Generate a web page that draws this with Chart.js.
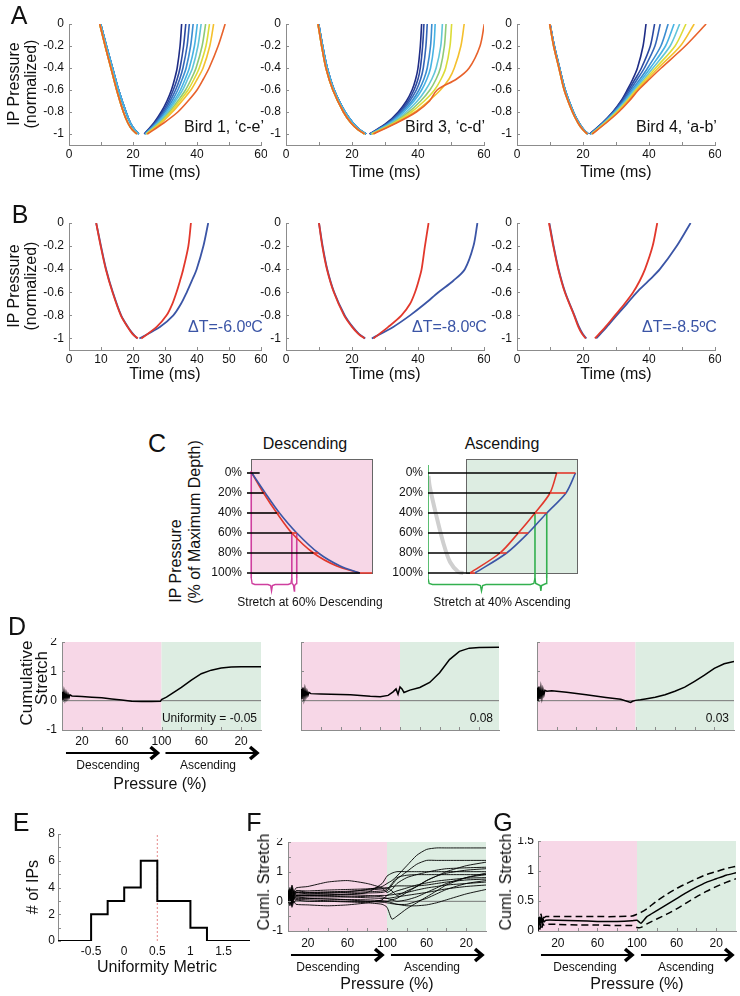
<!DOCTYPE html>
<html>
<head>
<meta charset="utf-8">
<script src="https://cdn.jsdelivr.net/npm/chart.js@4.4.1/dist/chart.umd.min.js"></script>
<style>
  body { margin: 0; width: 740px; height: 996px; position: relative; overflow: hidden; background: #fff;
         font-family: 'Liberation Sans', Arial, Helvetica, sans-serif; color: #111; }
  canvas { position: absolute; }
  .t { position: absolute; white-space: nowrap; line-height: 1; }
</style>
</head>
<body>
<script>
// ---------- data: panel A (x in ms at fixed pressure levels) ----------
const ascLevels = [-1, -0.9, -0.8, -0.7, -0.6, -0.5, -0.4, -0.2, 0];
const descLevels = [0, -0.2, -0.4, -0.6, -0.8, -0.9, -0.96, -1];

const bird1DescCool = [9.9, 11.7, 13.6, 15.5, 17.8, 19.2, 20.5, 21.8];
const bird1DescWarm = [9.6, 11.3, 13.1, 14.9, 17.0, 18.4, 19.7, 21.2];
const bird1Asc = [
  [23.5, 26.5, 28.8, 30.6, 32.0, 33.0, 33.8, 34.7, 35.2],
  [23.6, 26.8, 29.2, 31.1, 32.6, 33.8, 34.7, 35.8, 36.5],
  [23.7, 27.0, 29.6, 31.6, 33.3, 34.6, 35.6, 36.9, 37.6],
  [23.8, 27.3, 30.0, 32.2, 34.0, 35.4, 36.6, 38.0, 38.8],
  [23.9, 27.6, 30.5, 32.8, 34.8, 36.3, 37.6, 39.2, 40.1],
  [24.0, 27.9, 30.9, 33.3, 35.5, 37.1, 38.6, 40.3, 41.3],
  [24.1, 28.2, 31.4, 34.0, 36.4, 38.2, 39.7, 41.6, 42.7],
  [24.2, 28.5, 31.8, 34.6, 37.2, 39.1, 40.7, 42.8, 43.9],
  [24.3, 28.8, 32.3, 35.3, 38.1, 40.1, 41.9, 44.0, 45.2],
  [24.5, 29.6, 34.0, 37.2, 40.0, 42.0, 43.8, 46.6, 48.8],
];

const bird3DescCool = [9.9, 11.1, 12.5, 14.6, 17.9, 20.3, 22.3, 24.3];
const bird3DescWarm = [9.7, 10.8, 12.1, 14.2, 17.4, 19.7, 21.8, 23.8];
const bird3Asc = [
  [25.3, 30.5, 34.0, 36.5, 38.2, 39.3, 40.0, 40.7, 41.1],
  [25.4, 30.8, 34.4, 37.0, 38.8, 40.0, 40.7, 41.4, 41.8],
  [25.5, 31.0, 34.8, 37.5, 39.5, 40.8, 41.6, 42.4, 42.8],
  [25.6, 31.3, 35.2, 38.2, 40.3, 41.8, 42.8, 43.8, 44.2],
  [25.7, 31.6, 35.7, 38.8, 41.1, 42.7, 43.8, 44.8, 45.2],
  [25.8, 32.0, 36.4, 39.8, 42.3, 44.2, 45.5, 46.9, 47.4],
  [25.9, 32.4, 37.2, 40.8, 43.6, 45.5, 46.8, 48.0, 48.5],
  [26.0, 32.8, 38.0, 41.9, 45.0, 47.0, 48.4, 49.7, 50.2],
  [26.2, 33.2, 39.0, 43.2, 46.8, 49.4, 51.0, 53.0, 54.0],
  [26.5, 33.5, 39.5, 43.5, 45.8, 51.7, 55.5, 58.8, 60.1],
];

const bird4DescCool = [10.0, 11.3, 12.9, 14.6, 17.1, 18.8, 20.2, 21.6];
const bird4DescWarm = [9.9, 11.1, 12.7, 14.3, 16.8, 18.5, 19.9, 21.3];
const bird4Asc = [
  [22.0, 25.8, 29.0, 31.5, 33.4, 35.1, 36.5, 38.2, 39.1],
  [22.1, 25.9, 29.1, 31.7, 33.8, 35.8, 37.7, 40.4, 41.7],
  [22.2, 26.0, 29.3, 32.0, 34.3, 36.5, 38.6, 41.8, 43.4],
  [22.3, 26.1, 29.5, 32.4, 34.8, 37.3, 39.6, 43.6, 45.8],
  [22.4, 26.3, 29.7, 32.7, 35.2, 37.9, 40.4, 45.0, 47.6],
  [22.5, 26.4, 29.9, 32.9, 35.6, 38.5, 41.2, 46.4, 49.3],
  [22.6, 26.6, 30.2, 33.3, 36.0, 39.0, 42.0, 47.9, 51.2],
  [22.7, 26.8, 30.5, 33.6, 36.4, 39.6, 42.8, 49.5, 53.7],
  [22.8, 27.0, 30.8, 34.0, 36.8, 40.2, 43.7, 51.0, 57.3],
];

// ---------- data: panel B ----------
const b1RedDesc = [8.5, 9.9, 11.5, 13.6, 16.2, 18.3, 19.8, 21.5];
const b1BlueDesc = [8.5, 10.0, 11.6, 13.7, 16.3, 18.4, 20.0, 21.3];
const b1RedAsc = [22.6, 27.4, 30.5, 32.3, 33.6, 34.7, 35.7, 37.3, 38.1];
const b1BlueAsc = [22.0, 28.4, 32.6, 35.0, 36.8, 38.4, 39.9, 42.0, 43.5];
const b2RedDesc = [10.0, 11.0, 12.4, 14.5, 17.6, 20.0, 21.9, 23.8];
const b2BlueDesc = [10.0, 11.1, 12.5, 14.6, 17.8, 20.2, 22.1, 24.0];
const b2RedAsc = [26.5, 31.0, 35.0, 37.6, 39.1, 40.2, 41.1, 42.1, 43.2];
const b2BlueAsc = [26.0, 32.5, 37.6, 42.1, 46.2, 50.7, 54.2, 56.8, 58.0];
const b3RedDesc = [9.7, 11.0, 12.5, 14.5, 17.3, 18.6, 19.7, 20.8];
const b3BlueDesc = [9.8, 11.1, 12.6, 14.6, 17.4, 18.8, 19.9, 21.0];
const b3RedAsc = [23.6, 26.8, 29.7, 32.6, 35.2, 37.2, 38.8, 41.1, 42.5];
const b3BlueAsc = [24.0, 27.2, 30.2, 33.3, 36.3, 39.9, 43.3, 48.4, 52.6];

// ---------- data: panel C (schematic, % depth) ----------
const cLevels = [0, 20, 40, 60, 80, 100];
const cDescRedX = [0.5, 10.2, 21.2, 33.6, 51.5, 70.8, 90];
const cDescRedY = [0, 20, 40, 60, 80, 93, 100];
const cDescBlueX = [0.5, 11.6, 23.4, 37.7, 55.6, 73.6, 90];
const cDescBlueY = [0, 20, 40, 60, 80, 93, 100];
const cDescBlackEnd = [7, 10.2, 21.2, 33.6, 51.5, 90];
const cDescRedEnd = [7, 11.6, 23.4, 37.7, 55.6, 100];
const cDescMarks = [0, 33.6, 37.7];

const cAscGrayX = [0.3, 1.2, 5.8, 10.3, 14.8, 20.4, 23.7];
const cAscGrayY = [3, 14, 44, 70, 89, 99, 100];
const cAscRedX = [28.2, 48.3, 60.6, 71.8, 81.9, 86.4];
const cAscRedY = [100, 80, 60, 40, 20, 0];
const cAscBlueX = [31.5, 52.8, 67.3, 79.7, 92.6, 99];
const cAscBlueY = [100, 80, 60, 40, 20, 0];
const cAscBlackEnd = [86.4, 81.9, 71.8, 60.6, 48.3, 28.2];
const cAscRedEnd = [99, 92.6, 79.7, 67.3, 52.8, 31.5];
const cAscMarks = [0, 71.8, 79.7];

// ---------- data: panel D (cumulative stretch) ----------
const d1X = [0, 1, 2, 3, 4, 5, 6, 7, 8, 10, 20, 30, 40, 50, 60, 70, 80, 90, 99, 100, 105, 110, 120, 130, 140, 150, 160, 170, 180, 200];
const d1Y = [0.3, 0.02, 0.3, 0.06, 0.26, 0.08, 0.22, 0.1, 0.2, 0.16, 0.14, 0.12, 0.1, 0.06, 0.02, -0.02, -0.03, -0.03, -0.02, 0.04, 0.12, 0.23, 0.45, 0.7, 0.92, 1.04, 1.11, 1.15, 1.16, 1.16];
const d2X = [0, 1, 2, 3, 4, 5, 6, 7, 8, 10, 20, 30, 40, 50, 60, 70, 80, 88, 93, 96, 98, 100, 102, 104, 110, 120, 130, 140, 150, 160, 170, 180, 200];
const d2Y = [0.4, 0.05, 0.45, 0.1, 0.38, 0.15, 0.32, 0.18, 0.28, 0.24, 0.23, 0.22, 0.21, 0.2, 0.18, 0.15, 0.13, 0.18, 0.3, 0.4, 0.22, 0.47, 0.4, 0.28, 0.36, 0.45, 0.62, 0.95, 1.4, 1.68, 1.79, 1.81, 1.82];
const d3X = [0, 1, 2, 3, 4, 5, 6, 7, 8, 10, 15, 30, 50, 70, 85, 95, 97, 100, 105, 110, 120, 130, 140, 150, 160, 170, 180, 190, 200];
const d3Y = [0.45, -0.02, 0.48, 0.05, 0.42, 0.12, 0.38, 0.2, 0.35, 0.32, 0.34, 0.29, 0.2, 0.11, 0.05, -0.06, -0.02, 0.01, 0.03, 0.06, 0.12, 0.2, 0.32, 0.46, 0.66, 0.87, 1.1, 1.26, 1.34];
const uniformity = ['Uniformity = -0.05', '0.08', '0.03'];

// ---------- data: panel E (histogram) ----------
const binLefts = [-0.5, -0.25, 0, 0.25, 0.5, 0.75, 1];
const binCounts = [2, 3, 4, 6, 3, 3, 1];
const binWidth = 0.25;
const meanUniformity = 0.5;

// ---------- data: panel F (all IPs) ----------
const fX = [0, 2, 4, 6, 8, 20, 40, 60, 80, 95, 100, 105, 110, 120, 130, 140, 150, 160, 180, 200];
const fCurves = [
  [0.3, 0.05, 0.45, 0.1, 0.35, 0.3, 0.3, 0.32, 0.4, 0.5, 0.6, 0.7, 0.85, 1.2, 1.55, 1.75, 1.8, 1.8, 1.8, 1.8],
  [0.1, 0.4, -0.05, 0.3, 0.2, 0.2, 0.22, 0.25, 0.28, 0.3, 0.35, 0.55, 0.75, 1.0, 1.25, 1.38, 1.38, 1.38, 1.38, 1.38],
  [0.2, -0.1, 0.3, 0.05, 0.15, 0.1, 0.08, 0.06, 0.05, 0.02, 0, 0.05, 0.1, 0.3, 0.5, 0.7, 0.85, 1.0, 1.2, 1.32],
  [0.4, 0.2, 0.55, 0.3, 0.45, 0.5, 0.65, 0.7, 0.6, 0.45, 0.3, 0.4, 0.6, 0.8, 0.9, 0.98, 1.05, 1.1, 1.13, 1.15],
  [0.15, 0.35, 0.0, 0.25, 0.2, 0.2, 0.2, 0.22, 0.3, 0.6, 0.85, 0.95, 1.0, 1.0, 1.0, 1.0, 1.0, 1.0, 1.0, 1.0],
  [0.0, 0.25, -0.15, 0.1, 0.05, 0.0, 0.0, -0.02, -0.05, -0.1, -0.2, -0.6, -0.5, -0.25, -0.05, 0.15, 0.35, 0.55, 0.8, 0.95],
  [0.3, 0.1, 0.45, 0.2, 0.3, 0.25, 0.25, 0.22, 0.2, 0.15, 0.1, 0.05, 0.0, 0.05, 0.15, 0.3, 0.45, 0.6, 0.8, 0.9],
  [0.1, 0.3, -0.05, 0.2, 0.15, 0.15, 0.15, 0.15, 0.17, 0.2, 0.2, 0.28, 0.35, 0.45, 0.55, 0.62, 0.68, 0.72, 0.78, 0.8],
  [0.25, 0.45, 0.1, 0.35, 0.3, 0.3, 0.32, 0.34, 0.38, 0.42, 0.45, 0.5, 0.52, 0.52, 0.52, 0.55, 0.6, 0.65, 0.72, 0.75],
  [0.05, -0.15, 0.2, -0.05, 0.05, 0.05, 0.02, 0.0, 0.0, 0.0, 0.0, -0.05, -0.1, -0.1, 0.0, 0.1, 0.25, 0.4, 0.6, 0.7],
  [-0.05, 0.2, -0.2, 0.0, -0.1, -0.12, -0.15, -0.12, -0.05, 0.05, 0.2, 0.22, 0.25, 0.3, 0.38, 0.45, 0.5, 0.55, 0.6, 0.65],
  [0.2, 0.0, 0.35, 0.1, 0.2, 0.2, 0.18, 0.15, 0.12, 0.1, 0.1, 0.12, 0.15, 0.2, 0.25, 0.3, 0.36, 0.42, 0.5, 0.55],
  [0.1, 0.3, -0.1, 0.15, 0.1, 0.1, 0.08, 0.05, 0.0, -0.03, -0.05, -0.08, -0.1, -0.15, -0.15, -0.12, -0.05, 0.05, 0.25, 0.4],
  [0.35, 0.1, 0.5, 0.25, 0.35, 0.35, 0.38, 0.4, 0.42, 0.45, 0.45, 0.35, 0.2, 0.35, 0.5, 0.7, 0.85, 0.95, 1.05, 1.1],
  [0.2, 0.4, 0.05, 0.3, 0.25, 0.25, 0.28, 0.3, 0.32, 0.35, 0.4, 0.6, 0.8, 0.88, 0.9, 0.9, 0.9, 0.9, 0.9, 0.9],
];

// ---------- data: panel G (mean +/- sem) ----------
const gX = [0, 1, 2, 3, 4, 5, 6, 8, 20, 40, 60, 80, 95, 100, 104, 110, 120, 130, 140, 150, 160, 170, 180, 190, 200];
const gMean = [0.05, 0.22, 0.1, 0.24, 0.12, 0.21, 0.15, 0.18, 0.18, 0.17, 0.16, 0.16, 0.17, 0.18, 0.13, 0.24, 0.34, 0.44, 0.54, 0.64, 0.73, 0.81, 0.87, 0.93, 0.97];
const gUpper = [0.1, 0.26, 0.16, 0.28, 0.2, 0.26, 0.22, 0.24, 0.24, 0.24, 0.24, 0.24, 0.25, 0.28, 0.31, 0.37, 0.5, 0.61, 0.71, 0.79, 0.87, 0.94, 0.99, 1.04, 1.08];
const gLower = [0.0, 0.12, 0.03, 0.13, 0.06, 0.12, 0.1, 0.11, 0.11, 0.1, 0.1, 0.09, 0.09, 0.06, 0.06, 0.12, 0.2, 0.28, 0.37, 0.47, 0.57, 0.66, 0.74, 0.81, 0.87];

// ---------- tick labels ----------
const timeTicks = [0, 10, 20, 30, 40, 50, 60];
const timeLabels = ['0', '', '20', '', '40', '', '60'];
const timeLabelsAll = ['0', '10', '20', '30', '40', '50', '60'];
const normTicks = [0, -0.2, -0.4, -0.6, -0.8, -1];
const normLabels = ['0', '-0.2', '-0.4', '-0.6', '-0.8', '-1'];
const pressureTicks = [20, 40, 60, 80, 100, 120, 140, 160, 180];
const pressureLabels = ['20', '', '60', '', '100', '', '60', '', '20'];
const cumTicks = [2, 1, 0, -1];
const cumLabels = ['2', '1', '0', '-1'];
const histYTicks = [0, 1, 2, 3, 4, 5, 6, 7, 8];
const histYLabels = ['0', '', '2', '', '4', '', '6', '', '8'];
const histXTicks = [-0.5, 0, 0.5, 1, 1.5];
const histXLabels = ['-0.5', '0', '0.5', '1', '1.5'];
const fTicks = [-1, -0.5, 0, 0.5, 1, 1.5, 2];
const fLabels = ['-1', '', '0', '', '1', '', '2'];
const gTicks = [0, 0.25, 0.5, 0.75, 1, 1.25, 1.5];
const gLabels = ['0', '', '0.5', '', '1', '', '1.5'];

// ---------- styles ----------
const AX = '#8c8c8c';
const PINK = '#f7d7e7';
const GREEN = '#ddede2';
const RED = '#e2382c';
const BLUE = '#3b55a6';
const MAGENTA = '#cf3f9e';
const LGREEN = '#33b04f';
const jet = ['#1f2d86', '#2b48a0', '#3466b8', '#3b8dd0', '#47b3e4', '#62c5d8', '#8fca76', '#dcdc38', '#f4c02e', '#e8622b'];

Chart.defaults.font.family = "'Liberation Sans', Arial, Helvetica, sans-serif";
Chart.defaults.font.size = 12;
Chart.defaults.color = '#111';

const bands = {
  id: 'bands',
  beforeDraw(chart, args, o) {
    if (!o.list) return;
    const { ctx, chartArea: a, scales: { x, y } } = chart;
    ctx.save();
    o.list.forEach(b => {
      const x0 = x.getPixelForValue(b.x0), x1 = x.getPixelForValue(b.x1);
      const y0 = b.y0 == null ? a.top : y.getPixelForValue(b.y0);
      const y1 = b.y1 == null ? a.bottom : y.getPixelForValue(b.y1);
      ctx.fillStyle = b.fill;
      ctx.fillRect(x0, Math.min(y0, y1), x1 - x0, Math.abs(y1 - y0));
      if (b.stroke) {
        ctx.strokeStyle = b.stroke; ctx.lineWidth = 1;
        ctx.strokeRect(Math.round(x0) + 0.5, Math.round(Math.min(y0, y1)) + 0.5, Math.round(x1 - x0), Math.round(Math.abs(y1 - y0)));
      }
    });
    ctx.restore();
  },
};

const inTicks = {
  id: 'inTicks',
  afterDraw(chart, args, o) {
    const { ctx, chartArea: a, scales } = chart;
    const n = o.len || 4;
    ctx.save();
    ctx.strokeStyle = AX; ctx.lineWidth = 1;
    if (o.x) scales.x.ticks.forEach(t => {
      const p = Math.round(scales.x.getPixelForValue(t.value)) + 0.5;
      ctx.beginPath(); ctx.moveTo(p, a.bottom); ctx.lineTo(p, a.bottom - n); ctx.stroke();
    });
    if (o.y) scales.y.ticks.forEach(t => {
      const p = Math.round(scales.y.getPixelForValue(t.value)) + 0.5;
      ctx.beginPath(); ctx.moveTo(a.left, p); ctx.lineTo(a.left + n, p); ctx.stroke();
    });
    ctx.restore();
  },
};

const arrows = {
  id: 'arrows',
  afterDraw(chart, args, o) {
    if (!o.segs) return;
    const { ctx, chartArea: a, scales: { x } } = chart;
    const y = a.bottom + o.dy;
    ctx.save();
    ctx.strokeStyle = '#000';
    o.segs.forEach(([s, e]) => {
      const x0 = x.getPixelForValue(s), x1 = x.getPixelForValue(e);
      ctx.lineWidth = 2;
      ctx.beginPath(); ctx.moveTo(x0, y); ctx.lineTo(x1 - 3, y); ctx.stroke();
      ctx.lineWidth = 3.5; ctx.lineJoin = 'miter';
      ctx.beginPath(); ctx.moveTo(x1 - 9, y - 6); ctx.lineTo(x1 - 2, y); ctx.lineTo(x1 - 9, y + 6); ctx.stroke();
    });
    ctx.restore();
  },
};

Chart.register(bands, inTicks, arrows);

// ---------- helpers ----------
const pts = (xs, ys) => xs.map((x, i) => ({ x, y: ys[i] }));
const line = (data, color, o = {}) => Object.assign({ data, borderColor: color, borderWidth: 1.5, pointRadius: 0, tension: 0, fill: false }, o);

function axis(min, max, ticks, labels, o = {}) {
  return {
    type: 'linear', min, max, reverse: !!o.reverse, display: o.display ?? true,
    afterBuildTicks: s => { s.ticks = ticks.map(value => ({ value })); },
    ticks: { display: !!labels, callback: (v, i) => (labels ? labels[i] : ''), padding: o.pad ?? 3,
             autoSkip: false, maxRotation: 0, minRotation: 0 },
    grid: { display: false, drawTicks: false, tickLength: 0 },
    border: { display: o.border ?? true, color: AX, width: 1 },
  };
}

function plot(rect, m, datasets, scales, plugins = {}) {
  const [L, T, W, H] = rect;
  const w = W + m.l + m.r, h = H + m.t + m.b;
  const pb = m.pb || 0;
  const cv = document.createElement('canvas');
  cv.width = w; cv.height = h;
  cv.style.left = (L - m.l) + 'px'; cv.style.top = (T - m.t) + 'px';
  cv.style.width = w + 'px'; cv.style.height = h + 'px';
  document.body.appendChild(cv);
  const xOn = scales.x.display !== false, yOn = scales.y.display !== false;
  if (xOn) scales.x.afterFit = s => { s.height = m.b - pb; s.paddingLeft = 0; s.paddingRight = 0; };
  if (yOn) scales.y.afterFit = s => { s.width = m.l; s.paddingTop = 0; s.paddingBottom = 0; };
  return new Chart(cv, {
    type: 'line',
    data: { datasets },
    options: {
      responsive: false, animation: false, devicePixelRatio: 1,
      layout: { padding: { left: yOn ? 0 : m.l, top: m.t, right: m.r, bottom: xOn ? pb : m.b } },
      plugins: Object.assign({ legend: { display: false }, tooltip: { enabled: false } }, plugins),
      scales,
    },
  });
}

function txt(s, x, y, size, o = {}) {
  const d = document.createElement('div');
  d.className = 't';
  d.textContent = s;
  d.style.fontSize = size + 'px';
  d.style.left = x + 'px';
  d.style.top = y + 'px';
  const ax = o.align === 'right' ? '-100%' : o.align === 'left' ? '0' : '-50%';
  d.style.transform = `translate(${ax},-50%)` + (o.rot ? ` rotate(${o.rot}deg)` : '');
  if (o.color) d.style.color = o.color;
  document.body.appendChild(d);
}

function brace(x0, x1, top, depth, w) {
  const m = (x0 + x1) / 2, d = Math.min(w, (x1 - x0) / 4);
  const mid = top + depth * 0.5, bot = top + depth;
  return [
    { x: x0, y: top }, { x: x0 + d * 0.25, y: mid - 1 }, { x: x0 + d, y: mid }, { x: m - d, y: mid },
    { x: m - d * 0.25, y: mid + 1 }, { x: m, y: bot }, { x: m + d * 0.25, y: mid + 1 }, { x: m + d, y: mid },
    { x: x1 - d, y: mid }, { x: x1 - d * 0.25, y: mid - 1 }, { x: x1, y: top },
  ];
}

// ---------- panel A ----------
function birdSets(descCool, descWarm, asc, colors) {
  const sets = [];
  asc.forEach((a, i) => {
    const order = asc.length - i;
    const desc = i < asc.length / 2 ? descCool : descWarm;
    sets.push(line(pts(desc, descLevels), colors[i], { order, tension: 0.3, borderWidth: 1.6 }));
    sets.push(line(pts(a, ascLevels), colors[i], { order, tension: 0.3, borderWidth: 1.6 }));
  });
  return sets;
}
const mA = { l: 45, t: 8, r: 6, b: 22 };
const aPlug = { inTicks: { x: true, y: true, len: 3 } };
const timeAxis = lbl => axis(0, 60, timeTicks, lbl, { pad: 2 });
const normAxis = lbl => axis(-1.1, 0, normTicks, lbl, { pad: 5 });

plot([69, 24, 192, 121], mA, birdSets(bird1DescCool, bird1DescWarm, bird1Asc, jet),
  { x: timeAxis(timeLabels), y: normAxis(normLabels) }, aPlug);
plot([286, 24, 198, 121], mA, birdSets(bird3DescCool, bird3DescWarm, bird3Asc, jet),
  { x: timeAxis(timeLabels), y: normAxis(normLabels) }, aPlug);
plot([517, 24, 198, 121], mA, birdSets(bird4DescCool, bird4DescWarm, bird4Asc, jet.filter((c, i) => i !== 6)),
  { x: timeAxis(timeLabels), y: normAxis(normLabels) }, aPlug);

// ---------- panel B ----------
function pairSets(rd, bd, ra, ba) {
  return [
    line(pts(rd, descLevels), RED, { tension: 0.3, borderWidth: 1.8 }),
    line(pts(ra, ascLevels), RED, { tension: 0.3, borderWidth: 1.8 }),
    line(pts(bd, descLevels), BLUE, { tension: 0.3, borderWidth: 1.8 }),
    line(pts(ba, ascLevels), BLUE, { tension: 0.3, borderWidth: 1.8 }),
  ];
}
plot([69, 223, 192, 127], mA, pairSets(b1RedDesc, b1BlueDesc, b1RedAsc, b1BlueAsc),
  { x: timeAxis(timeLabelsAll), y: normAxis(normLabels) }, aPlug);
plot([286, 223, 198, 127], mA, pairSets(b2RedDesc, b2BlueDesc, b2RedAsc, b2BlueAsc),
  { x: timeAxis(timeLabels), y: normAxis(normLabels) }, aPlug);
plot([517, 223, 198, 127], mA, pairSets(b3RedDesc, b3BlueDesc, b3RedAsc, b3BlueAsc),
  { x: timeAxis(timeLabels), y: normAxis(normLabels) }, aPlug);

// ---------- panel C ----------
function schematicSets(blackStart, blackEnd, redEnd, curves, marks, markTop, markColor) {
  const sets = [];
  cLevels.forEach((lv, i) => {
    sets.push(line(pts([blackStart, blackEnd[i]], [lv, lv]), '#000', { borderWidth: 1.6 }));
    if (redEnd[i] > blackEnd[i]) sets.push(line(pts([blackEnd[i], redEnd[i]], [lv, lv]), RED, { borderWidth: 1.6 }));
  });
  curves.forEach(c => sets.push(c));
  marks.forEach((mx, i) => {
    const top = i === 0 ? markTop : cLevels[markTop === -8 ? 2 : 3];
    sets.push(line(pts([mx, mx], [top, 105]), markColor, { borderWidth: 1.6 }));
  });
  sets.push(line(brace(marks[0], marks[1], 105, 13, 3), markColor, { borderWidth: 1.4 }));
  sets.push(line(brace(marks[1], marks[2], 105, 13, 3), markColor, { borderWidth: 1.4 }));
  return sets;
}
const mC = { l: 40, t: 2, r: 4, b: 2 };
const pctAxis = () => axis(-14, 122, cLevels, cLevels.map(v => v + '%'), { reverse: true, border: false, pad: 5 });

plot([247, 459, 125, 136], mC,
  schematicSets(-3.5, cDescBlackEnd, cDescRedEnd, [
    line(pts(cDescBlueX, cDescBlueY), BLUE, { tension: 0.3, borderWidth: 1.6 }),
    line(pts(cDescRedX, cDescRedY), RED, { tension: 0.3, borderWidth: 1.6 }),
  ], cDescMarks, -2, MAGENTA),
  { x: Object.assign(axis(-3.5, 100, [], null), { display: false }), y: pctAxis() },
  { bands: { list: [{ x0: 0, x1: 100, y0: -14, y1: 100, fill: PINK, stroke: '#666' }] } });

plot([428, 459, 149, 136], mC,
  schematicSets(0, cAscBlackEnd, cAscRedEnd, [
    line(pts(cAscGrayX, cAscGrayY), '#cfcfcf', { tension: 0.3, borderWidth: 4, order: 10 }),
    line(pts(cAscBlueX, cAscBlueY), BLUE, { tension: 0.3, borderWidth: 1.6 }),
    line(pts(cAscRedX, cAscRedY), RED, { tension: 0.3, borderWidth: 1.6 }),
  ], cAscMarks, -8, LGREEN),
  { x: Object.assign(axis(0, 100, [], null), { display: false }), y: pctAxis() },
  { bands: { list: [{ x0: 25.5, x1: 100, y0: -14, y1: 100, fill: GREEN, stroke: '#666' }] } });

// ---------- panel D ----------
const shade = { list: [{ x0: 0, x1: 100, fill: PINK }, { x0: 100, x1: 200, fill: GREEN }] };
const zeroLine = () => line(pts([0, 200], [0, 0]), '#777', { borderWidth: 1, order: 5 });
const dRects = [[62, 642, 199, 88], [301, 642, 198, 88], [537, 642, 197, 88]];
const dSeries = [[d1X, d1Y], [d2X, d2Y], [d3X, d3Y]];
dRects.forEach((r, k) => {
  const first = k === 0;
  plot(r, { l: 22, t: 4, r: 4, b: 40, pb: 20 },
    [line(pts(dSeries[k][0], dSeries[k][1]), '#000', { borderWidth: 1.5, order: 1 }), zeroLine()],
    { x: axis(0, 200, pressureTicks, first ? pressureLabels : null, { pad: 4 }),
      y: axis(-1, 2, cumTicks, first ? cumLabels : null, { pad: 5 }) },
    Object.assign({ bands: shade, inTicks: { x: true, y: true, len: 3 } },
      first ? { arrows: { segs: [[4, 98], [104, 198]], dy: 23 } } : {}));
});

// ---------- panel E ----------
const histPts = [{ x: -1, y: 0 }].concat(binLefts.map((x, i) => ({ x, y: binCounts[i] })),
  [{ x: binLefts[binLefts.length - 1] + binWidth, y: 0 }, { x: 1.9, y: 0 }]);
plot([58, 834, 192, 107], { l: 25, t: 6, r: 4, b: 22 },
  [line(histPts, '#000', { stepped: 'before', borderWidth: 2 }),
   line(pts([meanUniformity, meanUniformity], [0, 8]), '#e58a8a', { borderWidth: 1, borderDash: [2, 2], order: 5 })],
  { x: axis(-1, 1.9, histXTicks, histXLabels, { border: false, pad: 3 }),
    y: axis(0, 8, histYTicks, histYLabels, { pad: 3 }) },
  { inTicks: { y: true, len: 3 } });

// ---------- panel F ----------
plot([288, 842, 198, 89], { l: 25, t: 4, r: 4, b: 40, pb: 20 },
  fCurves.map(c => line(pts(fX, c), '#000', { borderWidth: 0.9, tension: 0.2, order: 1 })).concat([zeroLine()]),
  { x: axis(0, 200, pressureTicks, pressureLabels, { pad: 5 }),
    y: axis(-1, 2, fTicks, fLabels, { pad: 5 }) },
  { bands: shade, inTicks: { x: true, y: true, len: 3 }, arrows: { segs: [[3, 97], [104, 198]], dy: 24 } });

// ---------- panel G ----------
plot([538, 841, 198, 90], { l: 30, t: 4, r: 4, b: 40, pb: 20 },
  [line(pts(gX, gMean), '#000', { borderWidth: 1.5, tension: 0.2 }),
   line(pts(gX, gUpper), '#000', { borderWidth: 1.5, tension: 0.2, borderDash: [7, 4] }),
   line(pts(gX, gLower), '#000', { borderWidth: 1.5, tension: 0.2, borderDash: [7, 4] })],
  { x: axis(0, 200, pressureTicks, pressureLabels, { pad: 5 }),
    y: axis(0, 1.5, gTicks, gLabels, { pad: 4 }) },
  { bands: shade, inTicks: { x: true, y: true, len: 3 }, arrows: { segs: [[3, 97], [104, 198]], dy: 24 } });

// ---------- text ----------
[['A', 19, 15], ['B', 20, 214], ['C', 157, 443], ['D', 17, 626], ['E', 21, 822], ['F', 254, 822], ['G', 503, 822]]
  .forEach(([s, x, y]) => txt(s, x, y, 25));

[84, 286].forEach(cy => {
  txt('IP Pressure', 14, cy, 16, { rot: -90 });
  txt('(normalized)', 31, cy, 16, { rot: -90 });
});
[[165, 172], [385, 172], [616, 172], [165, 374], [385, 374], [616, 374]].forEach(([x, y]) => txt('Time (ms)', x, y, 16));
txt('Bird 1, \u2018c-e\u2019', 184, 127, 16, { align: 'left' });
txt('Bird 3, \u2018c-d\u2019', 405, 127, 16, { align: 'left' });
txt('Bird 4, \u2018a-b\u2019', 636, 127, 16, { align: 'left' });
txt('\u0394T=-6.0\u00baC', 188, 327, 16, { align: 'left', color: BLUE });
txt('\u0394T=-8.0\u00baC', 412, 327, 16, { align: 'left', color: BLUE });
txt('\u0394T=-8.5\u00baC', 642, 327, 16, { align: 'left', color: BLUE });

txt('Descending', 305, 444, 16);
txt('Ascending', 502, 444, 16);
txt('IP Pressure', 176, 561, 16, { rot: -90 });
txt('(% of Maximum Depth)', 195, 522, 16, { rot: -90 });
txt('Stretch at 60% Descending', 310, 602, 12);
txt('Stretch at 40% Ascending', 502, 602, 12);

txt('Cumulative', 26, 683, 17, { rot: -90 });
txt('Stretch', 41, 678, 17, { rot: -90 });
txt(uniformity[0], 257, 718, 12, { align: 'right' });
txt(uniformity[1], 493, 718, 12, { align: 'right' });
txt(uniformity[2], 729, 718, 12, { align: 'right' });
txt('Descending', 108, 765, 12);
txt('Ascending', 208, 765, 12);
txt('Pressure (%)', 160, 784, 16);

txt('# of IPs', 33, 887, 16, { rot: -90 });
txt('Uniformity Metric', 157, 967, 16);
txt('Cuml. Stretch', 264, 882, 16, { rot: -90 });
txt('Cuml. Stretch', 506, 882, 16, { rot: -90 });
[[328, 432, 387], [585, 686, 637]].forEach(([a, b, c]) => {
  txt('Descending', a, 967, 12);
  txt('Ascending', b, 967, 12);
  txt('Pressure (%)', c, 984, 16);
});
</script>
</body>
</html>
